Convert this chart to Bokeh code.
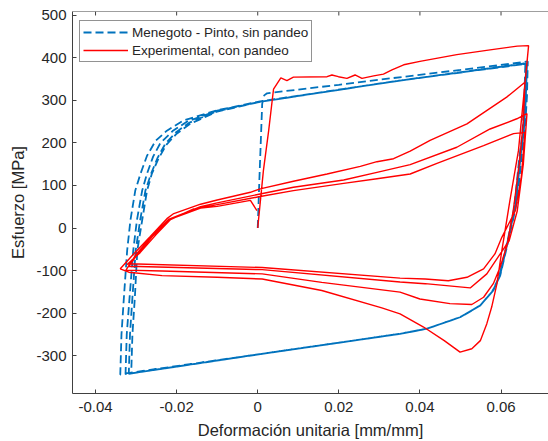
from bokeh.plotting import figure
from bokeh.models import FixedTicker, Range1d, Legend, LegendItem, Span
from bokeh.embed import file_html
from bokeh.resources import INLINE

# ---- axis ticks -------------------------------------------------------
x_ticks = [-0.04, -0.02, 0.0, 0.02, 0.04, 0.06]
x_tick_labels = ["-0.04", "-0.02", "0", "0.02", "0.04", "0.06"]
y_ticks = [-300, -200, -100, 0, 100, 200, 300, 400, 500]
y_tick_labels = ["-300", "-200", "-100", "0", "100", "200", "300", "400", "500"]

# ---- Menegotto-Pinto model (strain [mm/mm], stress [MPa]) -------------
mp_load0_x = [0.0, 0.0004, 0.0011, 0.0016, 0.0023, 0.0200, 0.0327, 0.0500, 0.0666]
mp_load0_y = [0, 112, 292, 312, 317, 337, 352, 372, 392]

mp_unload1_x = [0.0666, 0.0664, 0.0659, 0.0652, 0.0640, 0.0622, 0.0598, 0.0581, 0.0549,
                0.0499, 0.0417, 0.0351, 0.0011, -0.0318, -0.0339]
mp_unload1_y = [392, 310, 230, 180, 65, -14, -112, -147, -182, -210, -237, -249, -296, -341, -345]

mp_reload1_x = [-0.0339, -0.0336, -0.0330, -0.0322, -0.0314, -0.0302, -0.0289, -0.0273, -0.0252,
                -0.0224, -0.0183, -0.0100, 0.0006, 0.0351, 0.0664]
mp_reload1_y = [-345, -250, -163, -53, 18, 88, 128, 170, 205, 229, 253, 277, 298, 347, 388]

mp_unload2_x = [0.0664, 0.0661, 0.0656, 0.0649, 0.0637, 0.0620, 0.0597, 0.0580, 0.0549,
                0.0499, 0.0417, 0.0351, 0.0011, -0.0326]
mp_unload2_y = [388, 300, 225, 175, 60, -18, -114, -148, -182, -210, -237, -249, -296, -344]

mp_reload2_x = [-0.0326, -0.0323, -0.0316, -0.0307, -0.0298, -0.0285, -0.0273, -0.0258, -0.0240,
                -0.0210, -0.0175, -0.0100, 0.0006, 0.0351, 0.0662]
mp_reload2_y = [-344, -250, -163, -53, 18, 88, 128, 168, 200, 228, 250, 276, 297, 347, 387]

mp_unload3_x = [0.0662, 0.0659, 0.0654, 0.0647, 0.0635, 0.0619, 0.0596, 0.0579, 0.0548,
                0.0499, 0.0417, 0.0351, 0.0011, -0.0318]
mp_unload3_y = [387, 295, 220, 170, 55, -20, -115, -149, -183, -210, -237, -249, -296, -343]

mp_reload3_x = [-0.0318, -0.0315, -0.0309, -0.0301, -0.0290, -0.0277, -0.0263, -0.0247, -0.0228,
                -0.0202, -0.0168, -0.0100, 0.0006, 0.0351, 0.0660]
mp_reload3_y = [-343, -250, -163, -53, 18, 88, 128, 165, 198, 225, 248, 275, 297, 347, 386]

mp_unload4_x = [0.0660, 0.0657, 0.0652, 0.0645, 0.0633, 0.0618, 0.0595, 0.0578, 0.0548,
                0.0499, 0.0417, 0.0351, 0.0011, -0.0312]
mp_unload4_y = [386, 290, 215, 165, 50, -22, -116, -150, -183, -210, -237, -249, -296, -342]

mp_reload4_x = [-0.0312, -0.0309, -0.0303, -0.0297, -0.0285, -0.0273, -0.0261, -0.0245, -0.0225,
                -0.0200, -0.0165, -0.0100, 0.0002]
mp_reload4_y = [-342, -250, -163, -53, 18, 88, 128, 163, 196, 222, 246, 274, 296]

# ---- experimental record with buckling --------------------------------
exp_load0_x = [0.0, 0.0014, 0.0027, 0.0039, 0.0057, 0.0072, 0.0088, 0.0171, 0.0183, 0.0199, 0.0220,
               0.0240, 0.0257, 0.0286, 0.0310, 0.0331, 0.0360, 0.0400, 0.0491, 0.0573, 0.0640, 0.0668]
exp_load0_y = [0, 135, 229, 327, 353, 347, 355, 356, 360, 356, 352,
               360, 352, 358, 362, 372, 384, 392, 408, 419, 428, 429]

exp_unload1_x = [0.0668, 0.0643, 0.0622, 0.0602, 0.0590, 0.0577, 0.0565, 0.0549, 0.0528, 0.0499,
                 0.0460, 0.0409, 0.0351, 0.0306, 0.0158, 0.0011, -0.0100, -0.0236, -0.0318, -0.0339]
exp_unload1_y = [429, 182, 65, -53, -131, -186, -225, -265, -284, -292,
                 -265, -233, -202, -188, -147, -120, -116, -112, -104, -96]

exp_reload1_x = [-0.0339, -0.0306, -0.0265, -0.0224, -0.0207, -0.0141, -0.0100, -0.0018, 0.0006,
                 0.0088, 0.0171, 0.0253, 0.0294, 0.0335, 0.0376, 0.0425, 0.0516, 0.0614, 0.0659]
exp_reload1_y = [-96, -61, -20, 22, 34, 56, 66, 84, 92, 110, 127, 145, 156, 163, 181, 206, 245, 308, 343]

exp_unload2_x = [0.0659, 0.0655, 0.0645, 0.0630, 0.0615, 0.0598, 0.0581, 0.0557, 0.0528, 0.0474,
                 0.0400, 0.0351, 0.0158, 0.0011, -0.0236, -0.0325]
exp_unload2_y = [343, 250, 150, 40, -40, -92, -131, -163, -180, -178, -167, -151, -128, -108, -101, -99]

exp_reload2_x = [-0.0325, -0.0300, -0.0262, -0.0220, -0.0141, -0.0100, 0.0006, 0.0088, 0.0212,
                 0.0294, 0.0376, 0.0491, 0.0573, 0.0639, 0.0664]
exp_reload2_y = [-99, -62, -20, 20, 50, 59, 80, 96, 113, 131, 149, 190, 233, 257, 269]

exp_unload3_x = [0.0664, 0.0655, 0.0640, 0.0620, 0.0598, 0.0565, 0.0524, 0.0413, 0.0351, 0.0011, -0.0318]
exp_unload3_y = [269, 150, 40, -30, -61, -108, -141, -131, -127, -98, -90]

exp_reload3_x = [-0.0318, -0.0295, -0.0258, -0.0218, -0.0141, -0.0100, 0.0006, 0.0088, 0.0212,
                 0.0294, 0.0376, 0.0442, 0.0557, 0.0631, 0.0659]
exp_reload3_y = [-90, -60, -18, 20, 47, 55, 74, 88, 105, 116, 127, 152, 194, 222, 225]

exp_unload4_x = [0.0659, 0.0650, 0.0635, 0.0602, 0.0585, 0.0557, 0.0516, 0.0470, 0.0413, 0.0351,
                 0.0011, -0.0318, -0.0322]
exp_unload4_y = [225, 120, 40, -22, -61, -96, -116, -124, -120, -118, -93, -84, -86]

exp_reload4_x = [-0.0322, -0.0290, -0.0250, -0.0215, -0.0158, -0.0100, -0.0018, -0.0002]
exp_reload4_y = [-86, -58, -15, 20, 45, 51, 65, 41]

# the full loading histories, branch after branch
mp_x = (mp_load0_x + mp_unload1_x + mp_reload1_x + mp_unload2_x + mp_reload2_x
        + mp_unload3_x + mp_reload3_x + mp_unload4_x + mp_reload4_x)
mp_y = (mp_load0_y + mp_unload1_y + mp_reload1_y + mp_unload2_y + mp_reload2_y
        + mp_unload3_y + mp_reload3_y + mp_unload4_y + mp_reload4_y)
exp_x = (exp_load0_x + exp_unload1_x + exp_reload1_x + exp_unload2_x + exp_reload2_x
         + exp_unload3_x + exp_reload3_x + exp_unload4_x + exp_reload4_x)
exp_y = (exp_load0_y + exp_unload1_y + exp_reload1_y + exp_unload2_y + exp_reload2_y
         + exp_unload3_y + exp_reload3_y + exp_unload4_y + exp_reload4_y)

FONT = "Liberation Sans"
AX = "#404040"
TXT = "#262626"
Y_TOP = 509.4
Y_BOTTOM = -389.4

p = figure(width=548, height=441,
           x_range=Range1d(-0.04568, 0.07171), y_range=Range1d(Y_BOTTOM, Y_TOP),
           output_backend="svg", toolbar_location=None,
           min_border_left=72, min_border_right=0, min_border_top=11, min_border_bottom=48)
p.outline_line_color = None
p.grid.visible = False
p.background_fill_color = "white"
p.border_fill_color = "white"

def style_axis(ax):
    ax.major_tick_in = 4
    ax.major_tick_out = 0
    ax.minor_tick_in = 0
    ax.minor_tick_out = 0
    ax.axis_line_color = AX
    ax.major_tick_line_color = AX
    ax.major_label_text_color = TXT
    ax.major_label_text_font = FONT
    ax.major_label_text_font_size = "15px"
    ax.axis_label_text_font = FONT
    ax.axis_label_text_font_size = "16.5px"
    ax.axis_label_text_font_style = "normal"
    ax.axis_label_text_color = TXT

xa = p.xaxis[0]
xa.ticker = FixedTicker(ticks=x_ticks)
xa.major_label_overrides = dict(zip(x_ticks, x_tick_labels))
xa.axis_label = "Deformación unitaria [mm/mm]"
style_axis(xa)
xa.major_label_standoff = 8
xa.axis_label_standoff = 6

ya = p.yaxis[0]
ya.ticker = FixedTicker(ticks=y_ticks)
ya.major_label_overrides = dict(zip(y_ticks, y_tick_labels))
ya.axis_label = "Esfuerzo [MPa]"
style_axis(ya)
ya.major_label_standoff = 6
ya.axis_label_standoff = 6

# box line along the top edge, with inward ticks at the strain ticks
p.add_layout(Span(location=Y_TOP, dimension="width", line_color=AX, line_width=1))
p.segment(x0=x_ticks, y0=[Y_TOP] * len(x_ticks), x1=x_ticks, y1=[Y_TOP - 9.4] * len(x_ticks),
          line_color=AX, line_width=1)

mp_line = p.line(mp_x, mp_y, line_color="#0072BD", line_width=1.8, line_dash="8 4")
exp_line = p.line(exp_x, exp_y, line_color="#FF0000", line_width=1.4)

legend = Legend(items=[LegendItem(label="Menegoto - Pinto, sin pandeo", renderers=[mp_line]),
                       LegendItem(label="Experimental, con pandeo", renderers=[exp_line])],
                location=(7, 331))
legend.label_text_font = FONT
legend.label_text_font_size = "13.5px"
legend.label_text_color = TXT
legend.glyph_width = 45
legend.glyph_height = 16
legend.label_height = 16
legend.label_standoff = 4
legend.padding = 3
legend.spacing = 2
legend.margin = 0
legend.border_line_color = TXT
legend.border_line_width = 1
legend.background_fill_alpha = 1
p.add_layout(legend)

open("out.html", "w").write(file_html(p, INLINE))
